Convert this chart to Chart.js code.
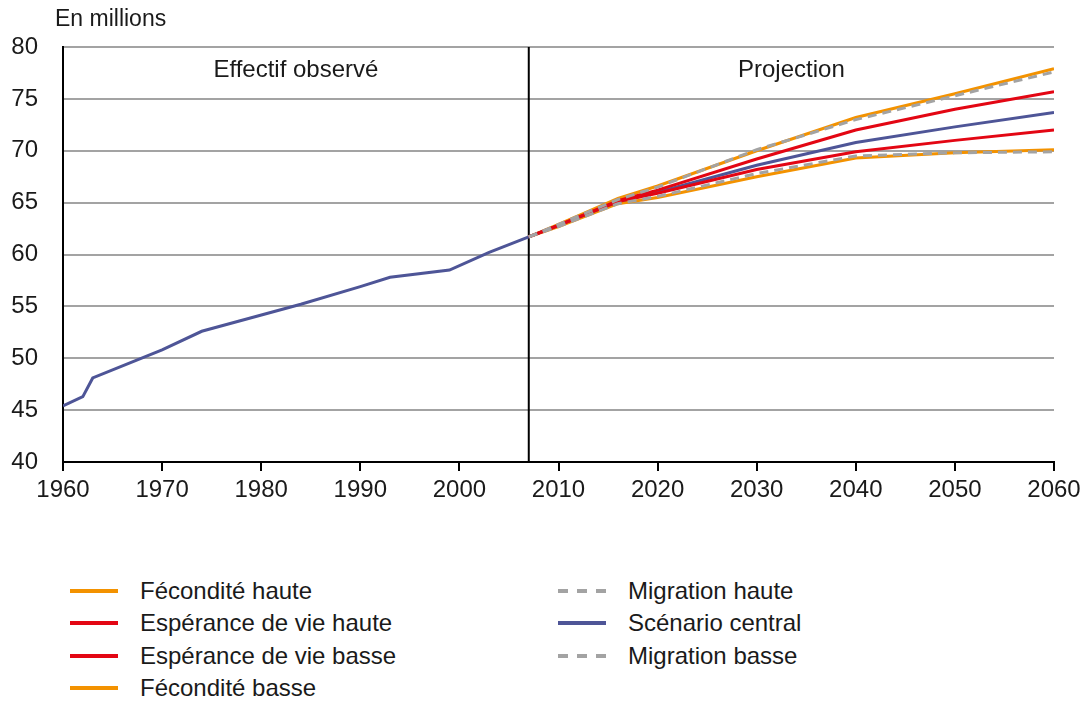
<!DOCTYPE html>
<html>
<head>
<meta charset="utf-8">
<script src="https://cdn.jsdelivr.net/npm/chart.js@4.4.0/dist/chart.umd.min.js"></script>
<style>
  body { margin: 0; background: #fff; font-family: "Liberation Sans", Arial, sans-serif; }
  #wrap { position: relative; width: 1088px; height: 702px; }
  #box { position: absolute; left: 0; top: 0; width: 1088px; height: 540px; }
  #legend {
    position: absolute; left: 70px; top: 575px;
    display: grid; grid-template-columns: 488px 400px;
    grid-template-rows: repeat(4, 32.3px); grid-auto-flow: column;
  }
  .item { display: flex; align-items: center; font-size: 24px; color: #1a1a1a; }
  .sw { width: 48px; height: 4px; margin-right: 22px; }
</style>
</head>
<body>
<div id="wrap">
  <div id="box"><canvas id="chart"></canvas></div>
  <div id="legend"></div>
</div>
<script>
// observed population (millions)
const obsYears = [1960, 1962, 1963, 1970, 1974, 1979, 1984, 1990, 1993, 1999, 2003, 2007];
const obsValues = [45.4, 46.3, 48.1, 50.8, 52.6, 53.9, 55.2, 56.9, 57.8, 58.5, 60.2, 61.7];

// projections
const projYears = [2007, 2010, 2016, 2020, 2030, 2040, 2050, 2060];
const fecHaute = [61.7, 62.9, 65.4, 66.6, 70.0, 73.2, 75.5, 77.9];
const migHaute = [61.7, 62.9, 65.3, 66.5, 70.1, 73.0, 75.3, 77.6];
const espHaute = [61.7, 62.8, 65.2, 66.2, 69.2, 72.0, 74.0, 75.7];
const central = [61.7, 62.8, 65.1, 66.0, 68.6, 70.8, 72.3, 73.7];
const espBasse = [61.7, 62.8, 65.1, 65.9, 68.2, 69.9, 71.0, 72.0];
const migBasse = [61.7, 62.7, 64.9, 65.6, 67.8, 69.5, 69.8, 69.9];
const fecBasse = [61.7, 62.7, 64.9, 65.5, 67.5, 69.3, 69.8, 70.1];

const xTicks = [1960, 1970, 1980, 1990, 2000, 2010, 2020, 2030, 2040, 2050, 2060];
const dividerYear = 2007;

const ORANGE = "#f39200";
const RED = "#e30613";
const BLUE = "#4e5597";
const GREY = "#a3a3a3";
const FONT = "'Liberation Sans', Arial, sans-serif";

const pts = (xs, ys) => xs.map((x, i) => ({ x: x, y: ys[i] }));

const series = [
  { label: "Fécondité haute", data: fecHaute, color: ORANGE, dash: [], order: 3 },
  { label: "Espérance de vie haute", data: espHaute, color: RED, dash: [], order: 1 },
  { label: "Espérance de vie basse", data: espBasse, color: RED, dash: [], order: 1 },
  { label: "Fécondité basse", data: fecBasse, color: ORANGE, dash: [], order: 3 },
  { label: "Migration haute", data: migHaute, color: GREY, dash: [9, 6], order: 0 },
  { label: "Scénario central", data: central, color: BLUE, dash: [], order: 2 },
  { label: "Migration basse", data: migBasse, color: GREY, dash: [9, 6], order: 0 },
];

const datasets = series.map((s) => ({
  label: s.label,
  data: pts(projYears, s.data),
  borderColor: s.color,
  borderDash: s.dash,
  borderWidth: 3,
  pointRadius: 0,
  order: s.order,
}));
datasets.push({
  label: "Effectif observé",
  data: pts(obsYears, obsValues),
  borderColor: BLUE,
  borderWidth: 3,
  pointRadius: 0,
  order: 2,
});

const extras = {
  id: "extras",
  beforeDatasetsDraw(chart) {
    const { ctx, chartArea, scales } = chart;
    const xd = scales.x.getPixelForValue(dividerYear);
    ctx.save();
    ctx.strokeStyle = "#000";
    ctx.lineWidth = 2;
    ctx.beginPath();
    ctx.moveTo(xd, chartArea.top);
    ctx.lineTo(xd, chartArea.bottom);
    ctx.stroke();
    ctx.restore();
  },
  afterDraw(chart) {
    const { ctx, chartArea, scales } = chart;
    const xd = scales.x.getPixelForValue(dividerYear);
    ctx.save();
    ctx.fillStyle = "#1a1a1a";
    ctx.font = "24px " + FONT;
    ctx.textBaseline = "middle";
    ctx.textAlign = "center";
    ctx.fillText("Effectif observé", (chartArea.left + xd) / 2, chartArea.top + 23);
    ctx.fillText("Projection", (xd + chartArea.right) / 2, chartArea.top + 23);
    ctx.font = "23px " + FONT;
    ctx.textAlign = "left";
    ctx.fillText("En millions", chartArea.left - 8, chartArea.top - 27);
    ctx.restore();
  },
};

new Chart(document.getElementById("chart"), {
  type: "line",
  data: { datasets: datasets },
  options: {
    responsive: true,
    maintainAspectRatio: false,
    animation: false,
    layout: { padding: { top: 47, right: 34, left: 0, bottom: 0 } },
    plugins: { legend: { display: false }, tooltip: { enabled: false } },
    scales: {
      x: {
        type: "linear",
        min: 1960,
        max: 2060,
        afterBuildTicks: (scale) => { scale.ticks = xTicks.map((v) => ({ value: v })); },
        afterFit: (scale) => { scale.height = 78; },
        ticks: {
          callback: (v) => String(v),
          color: "#1a1a1a",
          font: { size: 24, family: FONT },
          padding: 5,
          maxRotation: 0,
        },
        grid: { drawOnChartArea: false, drawTicks: true, tickLength: 9, color: "#000", lineWidth: 2 },
        border: { display: true, color: "#000", width: 2 },
      },
      y: {
        min: 40,
        max: 80,
        afterFit: (scale) => { scale.width = 63; },
        ticks: {
          stepSize: 5,
          color: "#1a1a1a",
          font: { size: 24, family: FONT },
          padding: 25,
        },
        grid: { color: "#a3a3a3", lineWidth: 2, drawTicks: false },
        border: { display: true, color: "#000", width: 2 },
      },
    },
  },
  plugins: [extras],
});

// html legend, two columns as in the original
const legend = document.getElementById("legend");
series.forEach((s) => {
  const item = document.createElement("div");
  item.className = "item";
  const sw = document.createElement("span");
  sw.className = "sw";
  sw.style.background = s.dash.length
    ? "repeating-linear-gradient(to right, " + s.color + " 0 10px, transparent 10px 19px)"
    : s.color;
  item.appendChild(sw);
  item.appendChild(document.createTextNode(s.label));
  legend.appendChild(item);
});
</script>
</body>
</html>
